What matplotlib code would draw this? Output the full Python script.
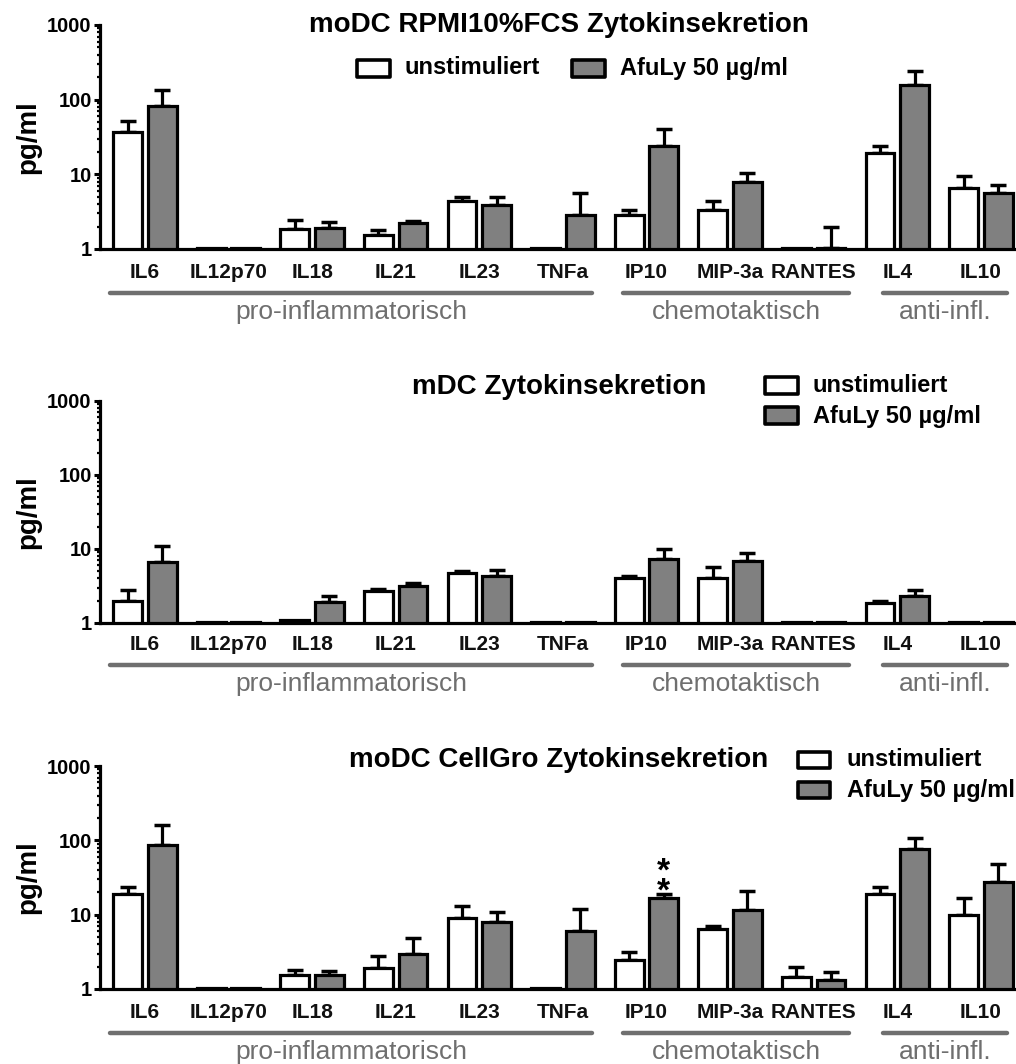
import numpy as np
import matplotlib
matplotlib.use("Agg")
import matplotlib.pyplot as plt
import matplotlib.transforms as mtransforms
from matplotlib.patches import Rectangle
from matplotlib.lines import Line2D
from matplotlib.ticker import LogLocator, NullFormatter

plt.rcParams['font.family'] = ['Liberation Sans', 'DejaVu Sans']

# ---------------------------------------------------------------- data
categories = ["IL6", "IL12p70", "IL18", "IL21", "IL23", "TNFa",
              "IP10", "MIP-3a", "RANTES", "IL4", "IL10"]
series_labels = ["unstimuliert", "AfuLy 50 µg/ml"]
group_names = ["pro-inflammatorisch", "chemotaktisch", "anti-infl."]

# moDC RPMI 10% FCS  (mean, SD in pg/ml)
rpmi_unstim_mean = [36.5, 1.03, 1.86, 1.54, 4.34, 1.03, 2.87, 3.28, 1.03, 19.2, 6.63]
rpmi_unstim_sd = [15.5, 0.0, 0.57, 0.24, 0.57, 0.0, 0.41, 1.15, 0.0, 5.0, 2.9]
rpmi_afuly_mean = [83.5, 1.03, 1.92, 2.19, 3.92, 2.87, 24.2, 8.0, 1.03, 155.0, 5.56]
rpmi_afuly_sd = [52.0, 0.0, 0.37, 0.19, 0.99, 2.81, 16.3, 2.35, 0.95, 85.0, 1.72]

# mDC
mdc_unstim_mean = [1.97, 1.03, 1.09, 2.69, 4.67, 1.03, 4.0, 4.0, 1.03, 1.87, 1.03]
mdc_unstim_sd = [0.81, 0.0, 0.0, 0.21, 0.31, 0.0, 0.3, 1.64, 0.0, 0.1, 0.0]
mdc_afuly_mean = [6.73, 1.03, 1.93, 3.18, 4.35, 1.03, 7.39, 6.94, 1.03, 2.30, 1.03]
mdc_afuly_sd = [4.27, 0.0, 0.37, 0.27, 0.84, 0.0, 2.71, 1.98, 0.0, 0.53, 0.0]

# moDC CellGro
cg_unstim_mean = [19.1, 1.03, 1.54, 1.90, 9.0, 1.03, 2.48, 6.4, 1.45, 19.1, 9.97]
cg_unstim_sd = [4.8, 0.0, 0.28, 0.85, 3.9, 0.0, 0.63, 0.55, 0.53, 4.1, 6.7]
cg_afuly_mean = [86.0, 1.03, 1.54, 2.98, 7.87, 6.0, 16.7, 11.6, 1.33, 76.0, 27.1]
cg_afuly_sd = [75.0, 0.0, 0.21, 1.82, 2.83, 6.1, 2.0, 9.1, 0.34, 31.0, 21.2]

# significance marks: (category index, series index, text)
cg_significance = [(6, 1, "*\n*")]

# ---------------------------------------------------------------- layout
W, H = 1016, 1064
fig = plt.figure(figsize=(W / 100, H / 100), dpi=100)


def fx(px):
    return px / W


def fy(py):
    return 1 - py / H


BAR_W = 0.345
OFFSET = 0.207
FILLS = ["white", "#808080"]
EDGE_LW = 2.3
GROUP_GREY = "#6f6f6f"
group_extents = [(-0.42, 5.35), (5.72, 8.42), (8.83, 10.31)]
XLIM = (-0.538, 10.42)

panels = [
    dict(title="moDC RPMI10%FCS Zytokinsekretion",
         means=(rpmi_unstim_mean, rpmi_afuly_mean),
         sds=(rpmi_unstim_sd, rpmi_afuly_sd),
         ax_top=25, ax_bot=249, title_y=25,
         legend=[(357, 60, 390, 77, 405, 68), (572, 60, 605, 77, 620, 68)],
         cat_off=23, bracket_off=44, group_off=63, marks=[]),
    dict(title="mDC Zytokinsekretion",
         means=(mdc_unstim_mean, mdc_afuly_mean),
         sds=(mdc_unstim_sd, mdc_afuly_sd),
         ax_top=401, ax_bot=623, title_y=387,
         legend=[(765, 377, 798, 394, 813, 385), (765, 407, 798, 424, 813, 416)],
         cat_off=21, bracket_off=42, group_off=61, marks=[]),
    dict(title="moDC CellGro Zytokinsekretion",
         means=(cg_unstim_mean, cg_afuly_mean),
         sds=(cg_unstim_sd, cg_afuly_sd),
         ax_top=766, ax_bot=989, title_y=760,
         legend=[(798, 752, 830, 768, 847, 759), (798, 782, 830, 798, 847, 790)],
         cat_off=23, bracket_off=44, group_off=63, marks=cg_significance),
]

AX_LEFT = 100
x = np.arange(len(categories))

for p in panels:
    h_px = p["ax_bot"] - p["ax_top"]
    ax = fig.add_axes([fx(AX_LEFT), fy(p["ax_bot"]), 1 - fx(AX_LEFT), h_px / H])
    ax.set_yscale("log")

    for s, (mean, sd) in enumerate(zip(p["means"], p["sds"])):
        mean = np.asarray(mean, float)
        sd = np.asarray(sd, float)
        xs = x + (OFFSET if s else -OFFSET)
        ax.bar(xs, mean, width=BAR_W, bottom=0.01, color=FILLS[s],
               edgecolor="black", linewidth=EDGE_LW, zorder=3)
        has_err = sd > 0
        ax.errorbar(xs[has_err], mean[has_err],
                    yerr=[np.zeros(has_err.sum()), sd[has_err]],
                    fmt="none", ecolor="black", elinewidth=2.3,
                    capsize=6, capthick=2.5, zorder=2)

    ax.set_ylim(1, 1000)
    ax.set_xlim(*XLIM)
    for side in ("top", "right"):
        ax.spines[side].set_visible(False)
    for side in ("left", "bottom"):
        ax.spines[side].set_linewidth(2.3)
        ax.spines[side].set_zorder(5)

    ax.set_yticks([1, 10, 100, 1000])
    ax.set_yticklabels(["1", "10", "100", "1000"], fontsize=14.5, fontweight="bold")
    ax.yaxis.set_minor_locator(LogLocator(base=10, subs=np.arange(2, 10)))
    ax.yaxis.set_minor_formatter(NullFormatter())
    ax.tick_params(axis="y", which="major", length=4, width=2.2, pad=2)
    ax.tick_params(axis="y", which="minor", length=2.5, width=1.6)
    ax.set_xticks([])

    # category labels, group brackets and group names below the axis
    blend = mtransforms.blended_transform_factory(ax.transData, ax.transAxes)
    for i, name in enumerate(categories):
        ax.text(i, -p["cat_off"] / h_px, name, transform=blend, ha="center",
                va="center", fontsize=15, fontweight="bold", color="#111111",
                clip_on=False)
    for (x0, x1), gname in zip(group_extents, group_names):
        yb = -p["bracket_off"] / h_px
        ax.add_line(Line2D([x0, x1], [yb, yb], transform=blend, color=GROUP_GREY,
                           lw=3.2, solid_capstyle="round", clip_on=False))
        ax.text((x0 + x1) / 2, -p["group_off"] / h_px, gname, transform=blend,
                ha="center", va="center", fontsize=19, color=GROUP_GREY,
                clip_on=False)

    # significance stars above the error bar
    for ci, si, txt in p["marks"]:
        xm = ci + (OFFSET if si else -OFFSET)
        ytop = p["means"][si][ci] + p["sds"][si][ci]
        ax.annotate(txt, (xm, ytop), xytext=(0, 12),
                    textcoords="offset pixels", ha="center", va="center",
                    fontsize=24, fontweight="bold", linespacing=0.55,
                    annotation_clip=False)

    # y-axis label
    fig.text(fx(28), fy((p["ax_top"] + p["ax_bot"]) / 2), "pg/ml", rotation=90,
             ha="center", va="center", fontsize=20, fontweight="bold")

    # title
    fig.text(fx(559), fy(p["title_y"]), p["title"], ha="center", va="center",
             fontsize=20, fontweight="bold")

    # legend boxes
    for s, (bx0, by0, bx1, by1, tx, ty) in enumerate(p["legend"]):
        fig.add_artist(Rectangle((fx(bx0), fy(by1)), fx(bx1 - bx0), (by1 - by0) / H,
                                 transform=fig.transFigure, facecolor=FILLS[s],
                                 edgecolor="black", linewidth=2.6,
                                 joinstyle="round"))
        fig.text(fx(tx), fy(ty), series_labels[s], ha="left", va="center",
                 fontsize=17, fontweight="bold")

fig.savefig("out.png", dpi=100)
